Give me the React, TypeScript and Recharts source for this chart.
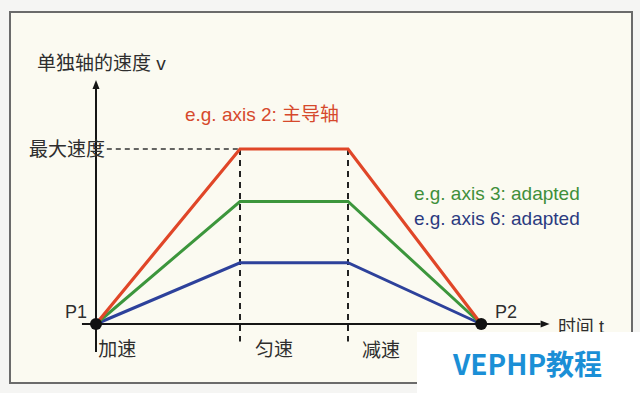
import React from "react";
import { LineChart, Line, XAxis, YAxis, ReferenceLine, ReferenceDot } from "recharts";

// corner times of the motion profile: start, end of accel, end of const speed, P2
const times = [0, 4, 7, 10.7];
// speed of each axis at those times (axis 2 is the leading axis, max speed = 100)
const axis2Speed = [0, 100, 100, 0];
const axis3Speed = [0, 70, 70, 0];
const axis6Speed = [0, 35, 35, 0];

const maxSpeed = 100;
const phaseBounds = [4, 7];
const phaseLabels = ["加速", "匀速", "减速"];
const pointLabels = ["P1", "P2"];
const pointTimes = [0, 10.7];

const INK = "#2e2e2e";
const RED = "#e04628";
const GREEN = "#3c963c";
const BLUE = "#2d419b";
const SANS = "'Liberation Sans', 'Noto Sans CJK SC', sans-serif";

const data = times.map((t, i) => ({
	t,
	axis2: axis2Speed[i],
	axis3: axis3Speed[i],
	axis6: axis6Speed[i],
}));

// annotation placement, in data units (t, v)
const notes = [
	{ text: "单独轴的速度 v", t: -1.64, v: 149, color: INK, size: 19 },
	{ text: "最大速度", t: -1.86, v: maxSpeed, color: INK, size: 19 },
	{ text: "e.g. axis 2: 主导轴", t: 2.47, v: 119.5, color: "#d6492c", size: 19 },
	{ text: "e.g. axis 3: adapted", t: 8.83, v: 74.5, color: "#3f8f3a", size: 19 },
	{ text: "e.g. axis 6: adapted", t: 8.83, v: 60.5, color: "#2b3a80", size: 19 },
	{ text: pointLabels[0], t: -0.86, v: 7, color: INK, size: 18 },
	{ text: pointLabels[1], t: 11.08, v: 7, color: INK, size: 18 },
	{ text: "时间 t", t: 12.83, v: -1.7, color: INK, size: 18 },
	{ text: phaseLabels[0], t: 0.06, v: -14.3, color: INK, size: 19 },
	{ text: phaseLabels[1], t: 4.42, v: -14.3, color: INK, size: 19 },
	{ text: phaseLabels[2], t: 7.39, v: -15.4, color: INK, size: 19 },
];

// line with a filled arrow head at its end point
const ArrowLine = (p: any): React.ReactElement => {
	const { x1, y1, x2, y2 } = p;
	const ang = Math.atan2(y2 - y1, x2 - x1);
	const len = 9;
	const half = 3.5;
	const bx = x2 - len * Math.cos(ang);
	const by = y2 - len * Math.sin(ang);
	const head = `${x2},${y2} ${bx - half * Math.sin(ang)},${by + half * Math.cos(ang)} ${
		bx + half * Math.sin(ang)
	},${by - half * Math.cos(ang)}`;
	return (
		<g>
			<line x1={x1} y1={y1} x2={bx} y2={by} stroke="#151515" strokeWidth={2} />
			<polygon points={head} fill="#151515" />
		</g>
	);
};

export default function App(): React.ReactElement {
	return (
		<div style={{ position: "absolute", left: 0, top: 0, width: 640, height: 393, background: "#f5f5f3" }}>
			<div
				style={{
					position: "absolute",
					left: 9,
					top: 11,
					width: 620,
					height: 369,
					border: "2px solid #6b6b6b",
					background: "#fbfaf1",
				}}
			/>
			<div style={{ position: "absolute", left: 0, top: 0 }}>
				<LineChart width={640} height={393} data={data} margin={{ top: 9, right: 4, bottom: 6, left: 24 }}>
					<XAxis dataKey="t" type="number" domain={[-2, 15]} allowDataOverflow hide />
					<YAxis type="number" domain={[-36, 180]} allowDataOverflow hide />

					<ReferenceLine
						segment={[
							{ x: 0.3, y: maxSpeed },
							{ x: phaseBounds[0], y: maxSpeed },
						]}
						stroke="#333"
						strokeWidth={1.5}
						strokeDasharray="5 4"
					/>
					{phaseBounds.map((b) => (
						<ReferenceLine
							key={`phase-${b}`}
							segment={[
								{ x: b, y: maxSpeed },
								{ x: b, y: -10 },
							]}
							stroke="#222"
							strokeWidth={2}
							strokeDasharray="6 5"
						/>
					))}

					<ReferenceLine
						segment={[
							{ x: 0, y: -16 },
							{ x: 0, y: 139.5 },
						]}
						shape={ArrowLine}
					/>
					<ReferenceLine
						segment={[
							{ x: -0.39, y: 0 },
							{ x: 12.6, y: 0 },
						]}
						shape={ArrowLine}
					/>

					<Line dataKey="axis6" type="linear" stroke={BLUE} strokeWidth={3} dot={false} isAnimationActive={false} />
					<Line dataKey="axis3" type="linear" stroke={GREEN} strokeWidth={3} dot={false} isAnimationActive={false} />
					<Line dataKey="axis2" type="linear" stroke={RED} strokeWidth={3.2} dot={false} isAnimationActive={false} />

					{pointTimes.map((t) => (
						<ReferenceDot key={`pt-${t}`} x={t} y={0} r={6} fill="#111" stroke="none" />
					))}

					{notes.map((n) => (
						<ReferenceDot
							key={n.text}
							x={n.t}
							y={n.v}
							r={0}
							shape={(p: any) => (
								<text
									x={p.cx}
									y={p.cy}
									fill={n.color}
									fontSize={n.size}
									fontFamily={SANS}
									dominantBaseline="central"
								>
									{n.text}
								</text>
							)}
						/>
					))}
				</LineChart>
			</div>
			<div
				style={{
					position: "absolute",
					left: 417,
					top: 332,
					width: 223,
					height: 61,
					background: "#ffffff",
				}}
			>
				<div
					style={{
						position: "absolute",
						left: 36,
						top: 14,
						color: "#1b8fd6",
						fontFamily: "'Noto Sans CJK SC', sans-serif",
						fontWeight: 700,
						fontSize: 28,
						lineHeight: "34px",
						whiteSpace: "nowrap",
					}}
				>
					VEPHP教程
				</div>
			</div>
		</div>
	);
}
